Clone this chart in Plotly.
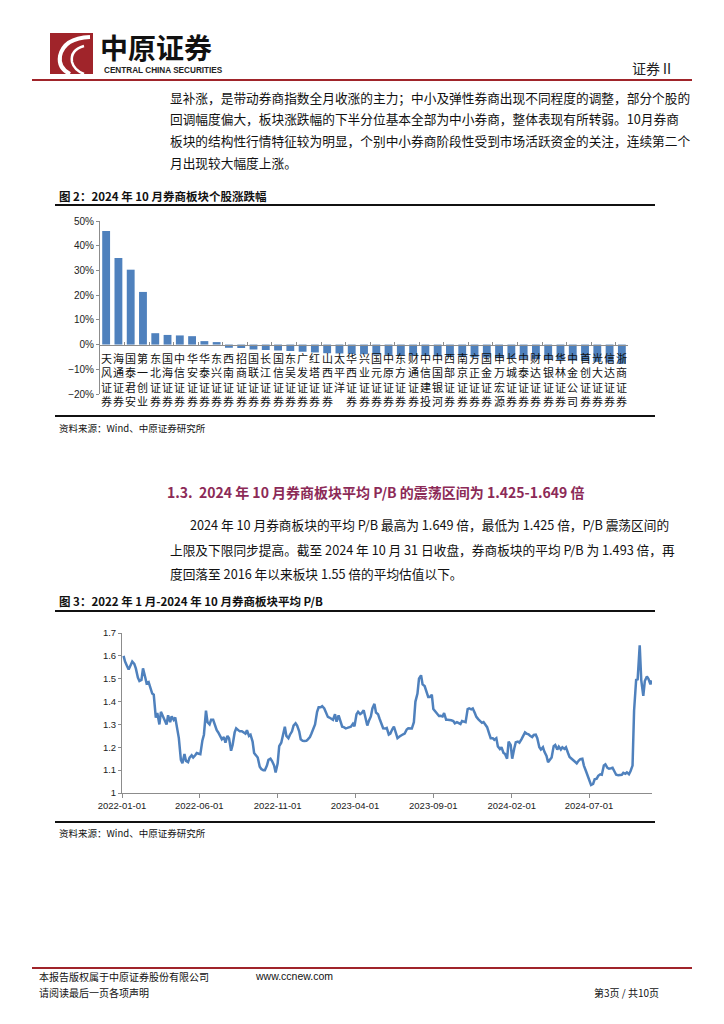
import plotly.graph_objects as go
import pandas as pd

W, H = 724, 1024


def px(x):
    return x / W


def py(y):
    return 1 - y / H


# ---------------- data ----------------
companies = ["天风证券", "海通证券", "国泰君安", "第一创业", "东北证券", "国海证券", "中信证券",
             "华安证券", "华泰证券", "东兴证券", "西南证券", "招商证券", "国联证券", "长江证券",
             "国信证券", "东吴证券", "广发证券", "红塔证券", "山西证券", "太平洋", "华西证券",
             "兴业证券", "国元证券", "中原证券", "东方证券", "财通证券", "中信建投", "中国银河",
             "西部证券", "南京证券", "方正证券", "国金证券", "申万宏源", "长城证券", "中泰证券",
             "财达证券", "中银证券", "华林证券", "中金公司", "首创证券", "光大证券", "信达证券",
             "浙商证券"]
changes_pct = [46.0, 35.0, 30.3, 21.3, 4.6, 3.9, 3.7, 3.4, 1.4, 1.0, -1.3, -1.4, -2.0, -2.2,
               -2.4, -2.6, -2.9, -3.2, -3.5, -3.6, -3.8, -3.9, -4.1, -4.2, -4.4, -4.5, -4.6,
               -4.8, -4.9, -5.0, -5.2, -5.3, -5.5, -5.6, -5.8, -5.9, -6.1, -6.3, -6.5, -6.7,
               -7.0, -7.3, -7.8]
bar_ticks = [-0.2, -0.1, 0, 0.1, 0.2, 0.3, 0.4, 0.5]

# average P/B, read twice a week (Tuesday, Friday) from 2022-01-04, last value = 2024-10-31
pb_values = [
    1.60, 1.575, 1.555, 1.54, 1.56, 1.575, 1.565, 1.545, 1.505, 1.49,
    1.495, 1.545, 1.51, 1.48, 1.485, 1.465, 1.435, 1.43, 1.33, 1.35,
    1.30, 1.355, 1.335, 1.32, 1.30, 1.34, 1.31, 1.335, 1.32, 1.33,
    1.27, 1.24, 1.145, 1.13, 1.17, 1.14, 1.135, 1.155, 1.165, 1.155,
    1.165, 1.175, 1.172, 1.17, 1.23, 1.255, 1.36, 1.31, 1.30, 1.32,
    1.32, 1.30, 1.275, 1.265, 1.25, 1.235, 1.245, 1.22, 1.25, 1.24,
    1.185, 1.21, 1.265, 1.283, 1.275, 1.27, 1.27, 1.265, 1.26, 1.275,
    1.25, 1.255, 1.225, 1.175, 1.16, 1.155, 1.115, 1.105, 1.10, 1.10,
    1.12, 1.145, 1.15, 1.14, 1.12, 1.09, 1.13, 1.205, 1.22, 1.245,
    1.29, 1.25, 1.24, 1.255, 1.27, 1.295, 1.305, 1.295, 1.27, 1.235,
    1.228, 1.227, 1.228, 1.235, 1.245, 1.26, 1.28, 1.30, 1.355, 1.375,
    1.375, 1.38, 1.37, 1.35, 1.333, 1.33, 1.325, 1.32, 1.345, 1.312,
    1.34, 1.315, 1.29, 1.288, 1.283, 1.285, 1.287, 1.29, 1.303, 1.292,
    1.345, 1.355, 1.345, 1.35, 1.362, 1.33, 1.295, 1.315, 1.335, 1.37,
    1.39, 1.352, 1.345, 1.325, 1.295, 1.283, 1.282, 1.285, 1.256, 1.26,
    1.28, 1.29, 1.262, 1.24, 1.247, 1.253, 1.257, 1.26, 1.278, 1.283,
    1.283, 1.282, 1.31, 1.40, 1.435, 1.50, 1.515, 1.475, 1.468, 1.45,
    1.42, 1.42, 1.43, 1.367, 1.357, 1.35, 1.337, 1.338, 1.335, 1.35,
    1.32, 1.32, 1.32, 1.318, 1.315, 1.305, 1.31, 1.308, 1.302, 1.315,
    1.31, 1.31, 1.367, 1.37, 1.366, 1.37, 1.35, 1.333, 1.322, 1.315,
    1.307, 1.31, 1.298, 1.288, 1.26, 1.24, 1.24, 1.233, 1.24, 1.204,
    1.192, 1.20, 1.175, 1.171, 1.15, 1.225, 1.21, 1.15, 1.195, 1.222,
    1.225, 1.22, 1.235, 1.25, 1.265, 1.26, 1.257, 1.25, 1.245, 1.254,
    1.255, 1.24, 1.20, 1.19, 1.20, 1.18, 1.162, 1.135, 1.148, 1.155,
    1.205, 1.21, 1.19, 1.203, 1.19, 1.20, 1.193, 1.20, 1.175, 1.158,
    1.15, 1.145, 1.135, 1.13, 1.142, 1.148, 1.15, 1.12, 1.096, 1.078,
    1.062, 1.035, 1.04, 1.06, 1.063, 1.075, 1.082, 1.08, 1.12, 1.125,
    1.11, 1.106, 1.108, 1.11, 1.093, 1.08, 1.078, 1.08, 1.08, 1.088,
    1.084, 1.09, 1.082, 1.095, 1.12, 1.36, 1.495, 1.497, 1.646, 1.494,
    1.425, 1.49, 1.51, 1.50, 1.475, 1.493]
tuesdays = pd.date_range("2022-01-04", "2024-10-29", freq="7D")
semiweekly = sorted(list(tuesdays) + list(tuesdays + pd.Timedelta(days=3)))
pb_dates = [d for d in semiweekly if d <= pd.Timestamp("2024-10-29")] + [pd.Timestamp("2024-10-31")]
pb_tick_labels = ["2022-01-01", "2022-06-01", "2022-11-01", "2023-04-01",
                  "2023-09-01", "2024-02-01", "2024-07-01"]

BLUE = "#4f81bd"
AXIS = "#8c8c8c"
CJK = "Noto Sans CJK SC"
LAT = "Liberation Sans, Arial"
BODY = 12.7

fig = go.Figure()
fig.add_trace(go.Bar(x=companies, y=[v / 100 for v in changes_pct], marker_color=BLUE,
                     marker_line_width=0, width=0.64, xaxis="x", yaxis="y",
                     showlegend=False))
fig.add_trace(go.Scatter(x=pb_dates, y=pb_values[:len(pb_dates)], mode="lines",
                         line=dict(color=BLUE, width=2.5), xaxis="x2", yaxis="y2",
                         showlegend=False))

fig.update_layout(
    width=W, height=H,
    margin=dict(l=0, r=0, t=0, b=0, pad=0, autoexpand=False),
    paper_bgcolor="white", plot_bgcolor="rgba(0,0,0,0)",
    xaxis=dict(domain=[px(100), px(628)], type="category", anchor="free",
               position=py(345), showline=True, linecolor=AXIS, linewidth=1,
               ticks="inside", tickson="boundaries", ticklen=3, tickcolor=AXIS,
               showticklabels=False, showgrid=False, zeroline=False, automargin=False,
               range=[-0.5, len(companies) - 0.5], fixedrange=True),
    yaxis=dict(domain=[py(394), py(221)], range=[-0.2, 0.5], tickvals=bar_ticks,
               tickformat=".0%", anchor="x", showline=True, linecolor=AXIS,
               ticks="outside", ticklen=3, tickcolor=AXIS, showgrid=False,
               zeroline=False, automargin=False,
               tickfont=dict(family=LAT, size=10, color="#222")),
    xaxis2=dict(domain=[px(122), px(652)], anchor="y2", type="date",
                range=["2022-01-01", "2024-11-01"], tickvals=pb_tick_labels,
                ticktext=pb_tick_labels, showline=True, linecolor=AXIS,
                ticks="outside", ticklen=4, tickcolor=AXIS, showgrid=False,
                zeroline=False, automargin=False,
                tickfont=dict(family=LAT, size=9.5, color="#222")),
    yaxis2=dict(domain=[py(793), py(633)], anchor="x2", range=[1, 1.7], dtick=0.1,
                showline=True, linecolor=AXIS, ticks="outside", ticklen=3,
                tickcolor=AXIS, showgrid=False, zeroline=False, automargin=False,
                tickfont=dict(family=LAT, size=9.5, color="#222")),
)

# vertical category labels on the bar chart
for name in companies:
    fig.add_annotation(x=name, y=0, xref="x", yref="y", yanchor="top", xanchor="center",
                       text="<br>".join(list(name)), showarrow=False, yshift=-3,
                       font=dict(family=CJK, size=11, color="#111"))


def text(x, y, s, size=BODY, color="#111", bold=False, anchor="left", family=CJK):
    if bold:
        s = "<b>" + s + "</b>"
    fig.add_annotation(x=px(x), y=py(y), xref="paper", yref="paper", text=s,
                       showarrow=False, xanchor=anchor, yanchor="middle",
                       font=dict(family=family, size=size, color=color))


def hline(y, x0, x1, color, width):
    fig.add_shape(type="line", xref="paper", yref="paper", x0=px(x0), x1=px(x1),
                  y0=py(y), y1=py(y), line=dict(color=color, width=width))


def pth(points):
    s = ""
    for cmd, *xy in points:
        s += cmd + " " + " ".join(
            f"{px(xy[i]):.5f},{py(xy[i + 1]):.5f}" for i in range(0, len(xy), 2)) + " "
    return s


# header / logo
fig.add_shape(type="rect", xref="paper", yref="paper", x0=px(50), x1=px(93),
              y0=py(74), y1=py(33), fillcolor="#a0242a", line=dict(width=0))
fig.add_shape(type="path", xref="paper", yref="paper",
              path=pth([("M", 90, 37), ("Q", 64, 38, 60, 56), ("Q", 58, 68, 70, 74)]),
              line=dict(color="white", width=4))
fig.add_shape(type="path", xref="paper", yref="paper",
              path=pth([("M", 84, 46), ("Q", 70, 50, 72, 62), ("Q", 74, 70, 84, 74)]),
              line=dict(color="white", width=2.5))
text(98, 46.5, "中原证券", size=28, color="#111", bold=True)
text(102, 70, "CENTRAL CHINA SECURITIES", size=8.2, color="#222", bold=True, family=LAT)
text(676, 68, "证券Ⅱ", size=14, color="#222", anchor="right")
hline(80, 32, 692, "#a0242a", 2)

# paragraph 1
para1 = ["显补涨，是带动券商指数全月收涨的主力；中小及弹性券商出现不同程度的调整，部分个股的",
         "回调幅度偏大，板块涨跌幅的下半分位基本全部为中小券商，整体表现有所转弱。10月券商",
         "板块的结构性行情特征较为明显，个别中小券商阶段性受到市场活跃资金的关注，连续第二个",
         "月出现较大幅度上涨。"]
for i, line in enumerate(para1):
    text(168, 97 + i * 21.8, line)

# figure 2 frame
text(57, 196, "图 2：2024 年 10 月券商板块个股涨跌幅", size=11.5, bold=True)
hline(205, 55, 655, "#111", 2)
hline(416, 55, 655, "#111", 2)
text(57, 428, "资料来源：Wind、中原证券研究所", size=9.5)

# section heading & paragraph 2
text(165, 492, "1.3.  2024 年 10 月券商板块平均 P/B 的震荡区间为 1.425-1.649 倍",
     size=14, color="#8c2a57", bold=True)
text(188, 524, "2024 年 10 月券商板块的平均 P/B 最高为 1.649 倍，最低为 1.425 倍，P/B 震荡区间的")
text(168, 549, "上限及下限同步提高。截至 2024 年 10 月 31 日收盘，券商板块的平均 P/B 为 1.493 倍，再")
text(168, 573, "度回落至 2016 年以来板块 1.55 倍的平均估值以下。")

# figure 3 frame
text(57, 601, "图 3：2022 年 1 月-2024 年 10 月券商板块平均 P/B", size=11.5, bold=True)
hline(611, 55, 655, "#111", 2)
hline(822, 55, 655, "#111", 2)
text(57, 833, "资料来源：Wind、中原证券研究所", size=9.5)

# footer
hline(968, 32, 692, "#a0242a", 2)
text(37, 976, "本报告版权属于中原证券股份有限公司", size=10)
text(253, 976, "www.ccnew.com", size=10.5, family=LAT)
text(37, 992, "请阅读最后一页各项声明", size=10)
text(661, 992, "第3页 / 共10页", size=10, anchor="right")

fig.write_html("out.html", config={"displayModeBar": False},
               post_script="document.body.style.margin='0';"
                           "document.body.style.overflow='hidden';")
